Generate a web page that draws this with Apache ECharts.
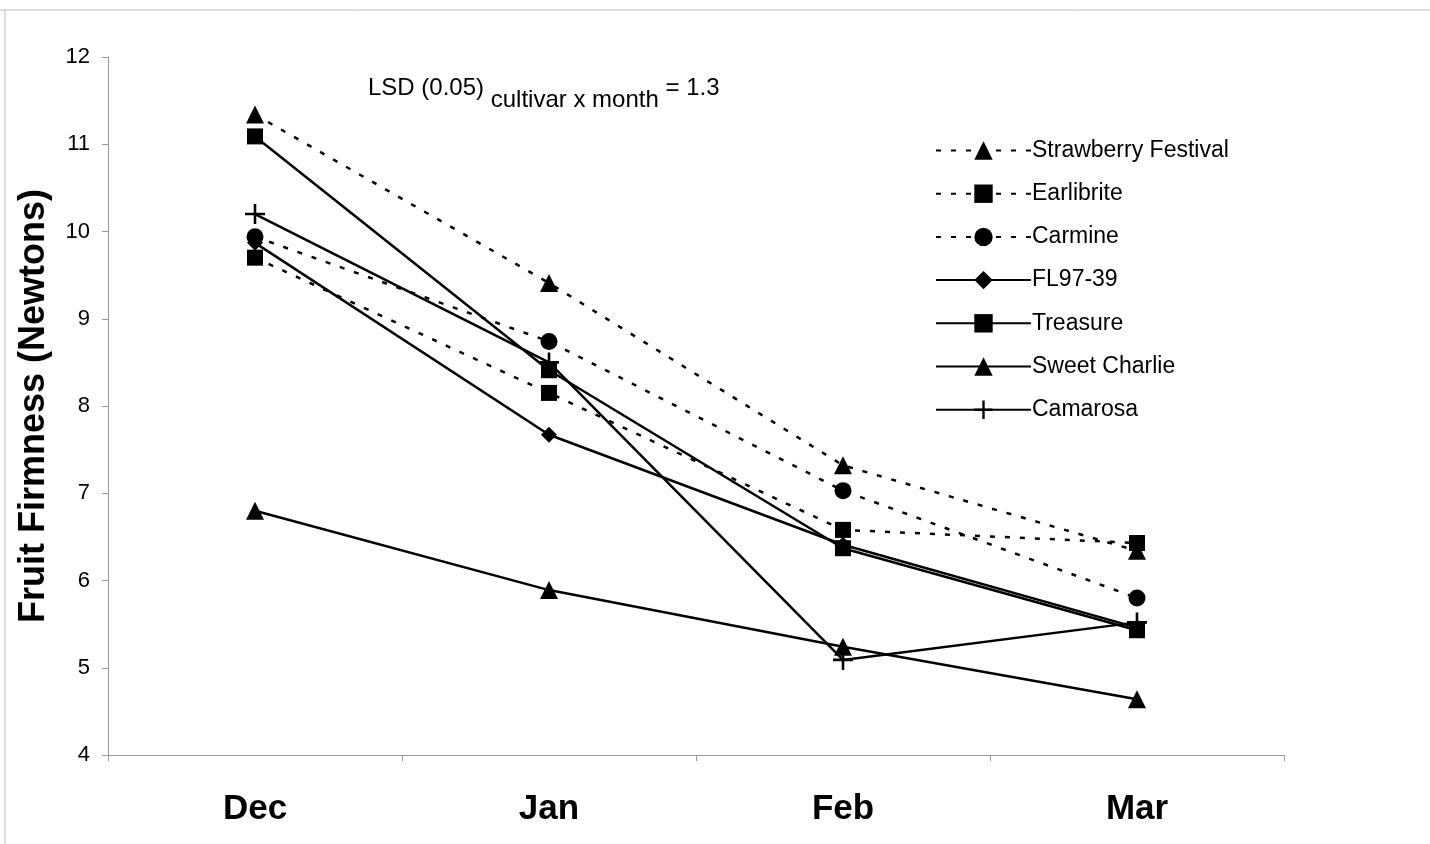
<!DOCTYPE html>
<html><head><meta charset="utf-8">
<script src="https://cdn.jsdelivr.net/npm/echarts@6/dist/echarts.min.js"></script>
<style>html,body{margin:0;padding:0;background:#fff}#c{width:1430px;height:844px}</style>
</head><body><div id="c"></div>
<script>
const months = ['Dec', 'Jan', 'Feb', 'Mar'];
const yTicks = [4, 5, 6, 7, 8, 9, 10, 11, 12];
const strawberryFestival = [11.34, 9.41, 7.32, 6.34];
const earlibrite = [9.70, 8.15, 6.58, 6.43];
const carmine = [9.94, 8.74, 7.03, 5.80];
const fl9739 = [9.87, 7.67, 6.41, 5.46];
const treasure = [11.09, 8.41, 6.37, 5.43];
const sweetCharlie = [6.80, 5.89, 5.24, 4.64];
const camarosa = [10.20, 8.50, 5.09, 5.52];

const names = ['Strawberry Festival', 'Earlibrite', 'Carmine', 'FL97-39', 'Treasure', 'Sweet Charlie', 'Camarosa'];
const values = [strawberryFestival, earlibrite, carmine, fl9739, treasure, sweetCharlie, camarosa];
const dashed = [true, true, true, false, false, false, false];
const plusPath = 'path://M-1.3,-10h2.6v20h-2.6z M-10,-1.3h20v2.6h-20z';
const symbols = ['triangle', 'rect', 'circle', 'diamond', 'rect', 'triangle', plusPath];
const sizes = [18, 16, 17, 16, 16, 18, 20];

const chart = echarts.init(document.getElementById('c'), null, {renderer: 'canvas'});
const FONT = '"Liberation Sans", Arial, sans-serif';
const series = names.map((n, i) => ({
  name: n,
  type: 'line',
  data: values[i],
  symbol: symbols[i],
  symbolSize: sizes[i],
  symbolKeepAspect: true,
  showAllSymbol: true,
  z: 10 - i,
  lineStyle: {color: '#000', width: 2.5, type: dashed[i] ? [5, 10] : 'solid'},
  itemStyle: {color: '#000', borderColor: '#000', borderWidth: 0},
  emphasis: {disabled: true},
  animation: false
}));

chart.setOption({
  animation: false,
  backgroundColor: '#fff',
  grid: {left: 108, right: 146, top: 57, bottom: 89, containLabel: false},
  xAxis: {
    type: 'category', data: months, boundaryGap: true,
    axisLine: {lineStyle: {color: '#999', width: 1}},
    axisTick: {show: true, interval: 0, length: 6, lineStyle: {color: '#999'}},
    axisLabel: {fontFamily: FONT, fontWeight: 'bold', fontSize: 35, color: '#000', margin: 37}
  },
  yAxis: {
    type: 'value', min: 4, max: 12, interval: 1,
    name: 'Fruit Firmness (Newtons)', nameLocation: 'middle', nameGap: 56,
    nameTextStyle: {fontFamily: FONT, fontWeight: 'bold', fontSize: 36, color: '#000'},
    axisLine: {show: true, lineStyle: {color: '#999', width: 1}},
    axisTick: {show: true, length: 6, lineStyle: {color: '#999'}},
    splitLine: {show: false},
    axisLabel: {fontFamily: FONT, fontSize: 22, color: '#000', margin: 18,
      formatter: v => yTicks.includes(v) ? String(v) : ''}
  },
  legend: {
    data: names, orient: 'vertical', left: 930, top: 134,
    itemWidth: 95, itemHeight: 23, itemGap: 20.2,
    textStyle: {fontFamily: FONT, fontSize: 23, lineHeight: 20, color: '#000', padding: [0, 0, 0, -4]},
    selectedMode: false
  },
  graphic: [
    {type: 'text', left: 368, top: 76, style: {
      rich: {
        a: {fontFamily: FONT, fontSize: 24, fill: '#000', verticalAlign: 'top'},
        b: {fontFamily: FONT, fontSize: 24, fill: '#000', padding: [12, 0, 0, 0]}
      },
      text: '{a|LSD (0.05) }{b|cultivar x month}{a| = 1.3}'
    }},
    {type: 'line', shape: {x1: 0, y1: 10, x2: 1430, y2: 10}, style: {stroke: '#bbb', lineWidth: 1}},
    {type: 'line', shape: {x1: 5, y1: 10, x2: 5, y2: 844}, style: {stroke: '#bbb', lineWidth: 1}}
  ],
  series: series
});
</script></body></html>
